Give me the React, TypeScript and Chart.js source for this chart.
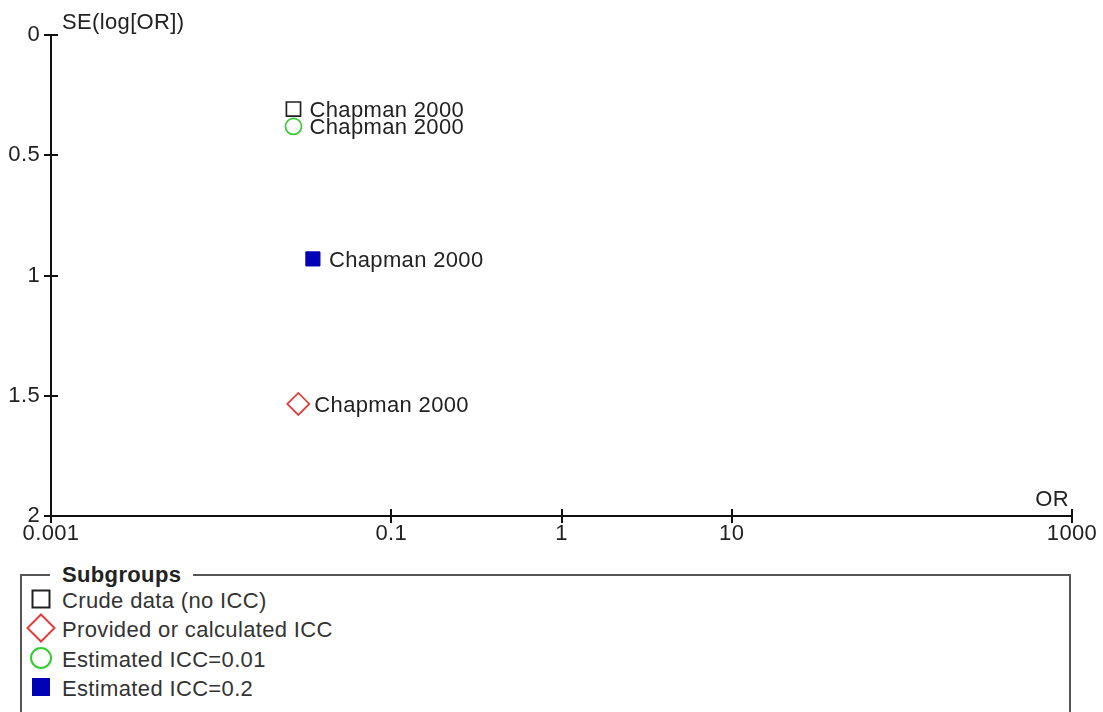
import React, { useEffect, useRef } from "react";
import { Chart, registerables } from "chart.js";

Chart.register(...registerables);

// ---- data ----
const subgroupNames = [
  "Crude data (no ICC)",
  "Provided or calculated ICC",
  "Estimated ICC=0.01",
  "Estimated ICC=0.2",
];
const studyLabels = ["Chapman 2000", "Chapman 2000", "Chapman 2000", "Chapman 2000"];
const orValues = [0.0266, 0.0284, 0.0266, 0.0346];
const seValues = [0.308, 1.534, 0.38, 0.931];
const xTickValues = [0.001, 0.1, 1, 10, 1000];
const xTickLabels = ["0.001", "0.1", "1", "10", "1000"];
const yTickValues = [0, 0.5, 1, 1.5, 2];
const yTickLabels = ["0", "0.5", "1", "1.5", "2"];
const xAxisTitle = "OR";
const yAxisTitle = "SE(log[OR])";
const legendTitle = "Subgroups";

// ---- styles ----
const FONT_FAMILY = '"Liberation Sans", Arial, sans-serif';
const FONT_SIZE = 22;
const TEXT_COLOR = "#222";
const AXIS_COLOR = "#111";
const LETTER_SPACING = "0.35px";
const markerStyles = [
  { pointStyle: "rect", radius: 10, fill: "rgba(0,0,0,0)", stroke: "#222", width: 1.7 },
  { pointStyle: "rectRot", radius: 11, fill: "rgba(0,0,0,0)", stroke: "#e03c3c", width: 1.7 },
  { pointStyle: "circle", radius: 8, fill: "rgba(0,0,0,0)", stroke: "#33cc33", width: 1.7 },
  { pointStyle: "rect", radius: 10, fill: "#0000b4", stroke: "#0000b4", width: 1 },
];

const overlayPlugin = {
  id: "funnelOverlay",
  beforeDraw(chart: any) {
    chart.ctx.letterSpacing = LETTER_SPACING;
  },
  afterDraw(chart: any) {
    const ctx = chart.ctx;
    const area = chart.chartArea;
    const xs = chart.scales.x;
    const ys = chart.scales.y;
    ctx.save();
    ctx.letterSpacing = LETTER_SPACING;
    // inner halves of tick marks
    ctx.strokeStyle = AXIS_COLOR;
    ctx.lineWidth = 2;
    xs.ticks.forEach((t: any) => {
      const px = Math.round(xs.getPixelForValue(t.value));
      ctx.beginPath();
      ctx.moveTo(px, area.bottom);
      ctx.lineTo(px, area.bottom - 7);
      ctx.stroke();
    });
    ys.ticks.forEach((t: any) => {
      const py = Math.round(ys.getPixelForValue(t.value));
      ctx.beginPath();
      ctx.moveTo(area.left, py);
      ctx.lineTo(area.left + 7, py);
      ctx.stroke();
    });
    // axis titles
    ctx.font = `${FONT_SIZE}px ${FONT_FAMILY}`;
    ctx.fillStyle = TEXT_COLOR;
    ctx.textBaseline = "middle";
    ctx.textAlign = "left";
    ctx.fillText(yAxisTitle, area.left + 11, area.top - 12);
    ctx.textAlign = "right";
    ctx.fillText(xAxisTitle, area.right - 3, area.bottom - 16);
    // study labels
    ctx.textAlign = "left";
    chart.data.datasets.forEach((_ds: any, i: number) => {
      const meta = chart.getDatasetMeta(i);
      meta.data.forEach((el: any) => {
        ctx.fillText(studyLabels[i], el.x + 16, el.y + 2);
      });
    });
    ctx.restore();
  },
};

function LegendMarker({ index }: { index: number }) {
  const s = markerStyles[index];
  let shape: React.ReactNode = null;
  if (index === 0) {
    shape = <rect x={6.5} y={6.5} width={17} height={17} fill="none" stroke={s.stroke} strokeWidth={2} />;
  } else if (index === 1) {
    shape = <polygon points="15,1.5 28.5,15 15,28.5 1.5,15" fill="none" stroke={s.stroke} strokeWidth={2} />;
  } else if (index === 2) {
    shape = <circle cx={15} cy={15} r={10} fill="none" stroke={s.stroke} strokeWidth={2} />;
  } else {
    shape = <rect x={6} y={6} width={18} height={18} fill={s.fill} />;
  }
  return (
    <svg width={30} height={30} style={{ position: "absolute", left: 26, top: -15 + 10.2 }}>
      {shape}
    </svg>
  );
}

export default function App() {
  const canvasRef = useRef<HTMLCanvasElement | null>(null);

  useEffect(() => {
    const canvas = canvasRef.current;
    if (!canvas) return;
    const chart = new Chart(canvas, {
      type: "scatter",
      data: {
        datasets: subgroupNames.map((name, i) => ({
          label: name,
          data: [{ x: orValues[i], y: seValues[i] }],
          pointStyle: markerStyles[i].pointStyle as any,
          pointRadius: markerStyles[i].radius,
          pointHoverRadius: markerStyles[i].radius,
          backgroundColor: markerStyles[i].fill,
          borderColor: markerStyles[i].stroke,
          borderWidth: markerStyles[i].width,
        })),
      },
      options: {
        animation: false,
        responsive: false,
        events: [],
        layout: { padding: { top: 35, right: 31, left: 0, bottom: 0 } },
        plugins: {
          legend: { display: false },
          tooltip: { enabled: false },
        },
        scales: {
          x: {
            type: "logarithmic",
            position: "bottom",
            min: xTickValues[0],
            max: xTickValues[xTickValues.length - 1],
            afterBuildTicks: (s: any) => {
              s.ticks = xTickValues.map((v) => ({ value: v }));
            },
            afterFit: (s: any) => {
              s.height = 44;
            },
            ticks: {
              autoSkip: false,
              maxRotation: 0,
              minRotation: 0,
              padding: 0,
              color: TEXT_COLOR,
              font: { family: FONT_FAMILY, size: FONT_SIZE, lineHeight: 1 },
              callback: (_v: any, idx: number) => xTickLabels[idx],
            },
            grid: {
              display: true,
              drawOnChartArea: false,
              drawTicks: true,
              tickLength: 7,
              color: AXIS_COLOR,
              lineWidth: 2,
            },
            border: { display: true, color: AXIS_COLOR, width: 2 },
          },
          y: {
            type: "linear",
            reverse: true,
            min: yTickValues[0],
            max: yTickValues[yTickValues.length - 1],
            afterBuildTicks: (s: any) => {
              s.ticks = yTickValues.map((v) => ({ value: v }));
            },
            afterFit: (s: any) => {
              s.width = 51;
            },
            ticks: {
              autoSkip: false,
              padding: 4,
              color: TEXT_COLOR,
              font: { family: FONT_FAMILY, size: FONT_SIZE, lineHeight: 1 },
              callback: (_v: any, idx: number) => yTickLabels[idx],
            },
            grid: {
              display: true,
              drawOnChartArea: false,
              drawTicks: true,
              tickLength: 7,
              color: AXIS_COLOR,
              lineWidth: 2,
            },
            border: { display: true, color: AXIS_COLOR, width: 2 },
          },
        },
      },
      plugins: [overlayPlugin],
    } as any);
    return () => chart.destroy();
  }, []);

  const textStyle: React.CSSProperties = {
    fontFamily: FONT_FAMILY,
    fontSize: FONT_SIZE,
    lineHeight: "24px",
    letterSpacing: LETTER_SPACING,
    color: "#333",
    whiteSpace: "nowrap",
  };

  return (
    <div
      style={{
        position: "absolute",
        left: 0,
        top: 0,
        width: 1103,
        height: 712,
        overflow: "hidden",
        background: "#fff",
      }}
    >
      <canvas
        ref={canvasRef}
        width={1103}
        height={560}
        style={{ position: "absolute", left: 0, top: 0, width: 1103, height: 560 }}
      />
      <div
        style={{
          position: "absolute",
          left: 20,
          top: 574,
          width: 1051,
          height: 200,
          boxSizing: "border-box",
          borderTop: "2px solid #555",
          borderLeft: "2px solid #555",
          borderRight: "2px solid #555",
        }}
      />
      <span
        style={{
          ...textStyle,
          position: "absolute",
          left: 50,
          top: 575 - 12.2,
          padding: "0 12px",
          background: "#fff",
          fontWeight: "bold",
          color: "#222",
        }}
      >
        {legendTitle}
      </span>
      {subgroupNames.map((name, i) => {
        const center = 601 + i * 29.4;
        return (
          <div key={name} style={{ position: "absolute", left: 0, top: center - 12.2, height: 24, width: 600 }}>
            <LegendMarker index={i} />
            <span style={{ ...textStyle, position: "absolute", left: 62, top: 0 }}>{name}</span>
          </div>
        );
      })}
    </div>
  );
}
